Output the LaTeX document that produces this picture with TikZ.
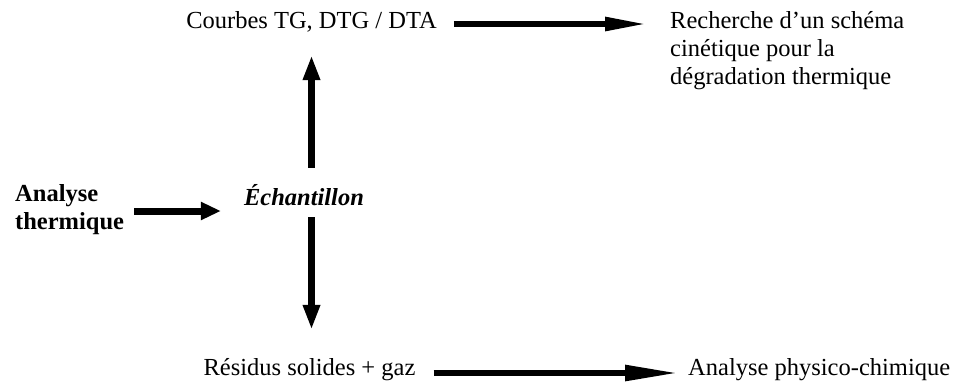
\documentclass[tikz,border=0pt]{standalone}
\usepackage{fontspec}
\setmainfont{Liberation Serif}
\usetikzlibrary{arrows.meta,calc}
\begin{document}
\begin{tikzpicture}[x=1pt,y=-1pt,
  lbl/.style={inner sep=0pt,font=\fontsize{24.5}{28}\selectfont},
  lblb/.style={inner sep=0pt,font=\fontsize{24.5}{28}\selectfont\bfseries},
  lblbi/.style={inner sep=0pt,font=\fontsize{24.5}{28}\selectfont\bfseries\itshape},
  fixh/.style={text height=17pt,text depth=5pt},
  arrT/.style={line width=5.7pt,-{Triangle[length=42pt,width=13pt]}},
  arrB/.style={line width=5.7pt,-{Triangle[length=53pt,width=15pt]}},
  arrL/.style={line width=7pt,-{Triangle[length=20pt,width=17pt]}},
  arrV/.style={line width=7pt,-{Triangle[length=25pt,width=16pt]}}]
\useasboundingbox (0,0) rectangle (960,381);
\node[lbl,fixh,anchor=base] (courbes) at (311.5,28) {Courbes TG, DTG / DTA};
\node[lbl,anchor=base west,align=left] (recherche) at (670,84) {Recherche d’un schéma\\cinétique pour la\\dégradation thermique};
\node[lblb,anchor=base west,align=left] (analyse) at (15,229) {Analyse\\thermique};
\node[lblbi,fixh,anchor=base] (echant) at (304,205) {Échantillon};
\node[lbl,fixh,anchor=base] (residus) at (309.5,375) {Résidus solides + gaz};
\node[lbl,anchor=base west] (physico) at (688,375) {Analyse physico-chimique};
\draw[arrT] ($(courbes.base east)+(17,-4)$) -- ($(courbes.base east -| recherche.west)+(-23,-4)$);
\draw[arrL] ($(analyse.east |- echant.base)+(10,6)$) -- ($(echant.base west)+(-23,6)$);
\draw[arrV,shorten <=20pt] (echant.north -| courbes.south) -- ($(courbes.south)+(0,22)$);
\draw[arrV,shorten <=7pt] (echant.south -| courbes.south) -- ($(residus.north -| courbes.south)+(0,-28)$);
\draw[arrB] ($(residus.base east)+(18,-2)$) -- ($(physico.base west)+(-10,-2)$);
\end{tikzpicture}
\end{document}
